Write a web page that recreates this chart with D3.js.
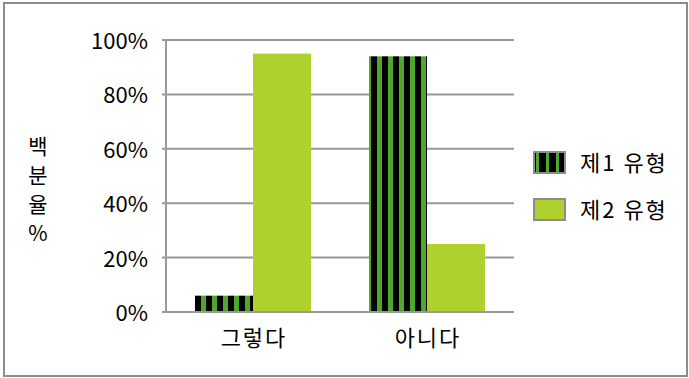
<!DOCTYPE html>
<html><head><meta charset="utf-8">
<script src="https://cdn.jsdelivr.net/npm/d3@7"></script>
<style>body{margin:0;background:#fff;}svg{display:block;font-family:"Noto Sans CJK KR","Noto Sans",sans-serif;}</style>
</head><body>
<script>
const categories = ["그렇다", "아니다"];
const seriesNames = ["제1 유형", "제2 유형"];
const series1 = [6, 94];
const series2 = [95, 25];
const yTicks = [0, 20, 40, 60, 80, 100];
const yLabelChars = ["백", "분", "율", "%"];

const W = 689, H = 378;
const svg = d3.select("body").append("svg").attr("width", W).attr("height", H);
const defs = svg.append("defs");
const pat = defs.append("pattern").attr("id", "stripes").attr("patternUnits", "userSpaceOnUse")
  .attr("width", 11).attr("height", 10).attr("x", 195);
pat.append("rect").attr("width", 11).attr("height", 10).attr("fill", "#4fa82c");
pat.append("rect").attr("x", 0).attr("width", 6).attr("height", 10).attr("fill", "#000");
const pat2 = defs.append("pattern").attr("id", "stripes2").attr("patternUnits", "userSpaceOnUse")
  .attr("width", 10).attr("height", 10).attr("x", 535);
pat2.append("rect").attr("width", 10).attr("height", 10).attr("fill", "#4fa82c");
pat2.append("rect").attr("x", 0).attr("width", 7).attr("height", 10).attr("fill", "#000");

svg.append("rect").attr("x", 4).attr("y", 3).attr("width", 683).attr("height", 373)
  .attr("fill", "#fff").attr("stroke", "#8c8c8c").attr("stroke-width", 2);

const x0 = 166, x1 = 514, yTop = 40, yBot = 312;
const x = d3.scaleBand().domain(categories).range([x0, x1]).paddingInner(1/3).paddingOuter(1/6);
const xs = d3.scaleBand().domain([0, 1]).range([0, x.bandwidth()]);
const y = d3.scaleLinear().domain([0, 100]).range([yBot, yTop]);

// gridlines
svg.append("g").selectAll("line").data(yTicks).join("line")
  .attr("x1", x0 - 4).attr("x2", x1).attr("y1", d => y(d)).attr("y2", d => y(d))
  .attr("stroke", "#999").attr("stroke-width", 2);
// y axis line
svg.append("line").attr("x1", x0).attr("x2", x0).attr("y1", yTop).attr("y2", yBot)
  .attr("stroke", "#999").attr("stroke-width", 2);

// bars
const data = [series1, series2];
const fills = ["url(#stripes)", "#afd12e"];
data.forEach((vals, si) => {
  svg.append("g").selectAll("rect").data(vals).join("rect")
    .attr("x", (d, i) => x(categories[i]) + xs(si))
    .attr("width", xs.bandwidth())
    .attr("y", d => y(d))
    .attr("height", d => yBot - y(d))
    .attr("fill", fills[si]);
});
svg.append("line").attr("x1", x0 - 4).attr("x2", x1).attr("y1", yBot).attr("y2", yBot)
  .attr("stroke", "#999").attr("stroke-width", 2);

// y tick labels
svg.append("g").selectAll("text").data(yTicks).join("text")
  .attr("x", 148).attr("y", d => y(d) + 1).attr("dy", "0.36em")
  .attr("text-anchor", "end").attr("font-size", 22).attr("fill", "#000")
  .text(d => d + "%");

// category labels
svg.append("g").selectAll("text").data(categories).join("text")
  .attr("x", d => x(d) + x.bandwidth() / 2 + 1).attr("y", 338).attr("dy", "0.36em")
  .attr("text-anchor", "middle").attr("font-size", 22).attr("letter-spacing", 2).attr("fill", "#000")
  .text(d => d);

// y axis title (stacked)
svg.append("g").selectAll("text").data(yLabelChars).join("text")
  .attr("x", 38).attr("y", (d, i) => 146 + i * 29).attr("dy", "0.36em")
  .attr("text-anchor", "middle").attr("font-size", 21).attr("fill", "#000")
  .text(d => d);

// legend
const legFills = ["url(#stripes2)", "#afd12e"];
const lg = svg.append("g").selectAll("g").data(seriesNames).join("g")
  .attr("transform", (d, i) => `translate(534, ${152 + i * 47})`);
lg.append("rect").attr("width", 31).attr("height", 21)
  .attr("fill", (d, i) => legFills[i]).attr("stroke", "#8c8c8c").attr("stroke-width", 2);
lg.append("text").attr("x", 46).attr("y", 11).attr("dy", "0.36em")
  .attr("font-size", 22).attr("letter-spacing", 2).attr("fill", "#000").text(d => d);
</script>
</body></html>
